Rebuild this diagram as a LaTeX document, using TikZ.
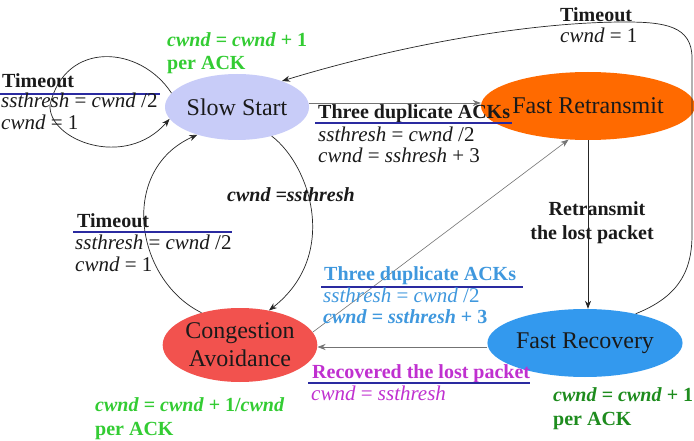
\documentclass[tikz,border=0pt]{standalone}
\usepackage{fontspec}
\setmainfont{Liberation Serif}
\usetikzlibrary{shapes.geometric,arrows.meta}
\definecolor{ssfill}{HTML}{C8CCF8}
\definecolor{frtfill}{HTML}{FF6A00}
\definecolor{cafill}{HTML}{F2524E}
\definecolor{frcfill}{HTML}{3399EE}
\definecolor{brgreen}{HTML}{33CC33}
\definecolor{dkgreen}{HTML}{1E8C1E}
\definecolor{ltblue}{HTML}{3F98DE}
\definecolor{magen}{HTML}{C030D0}
\definecolor{ulblue}{HTML}{2A2AA0}
\definecolor{txt}{HTML}{1A1A1A}
\tikzset{
  state/.style={ellipse, draw=none, inner sep=0pt, text=txt, font=\fontsize{24}{28}\selectfont, align=center},
  lbl/.style={anchor=base west, inner sep=0pt, text=txt, font=\fontsize{20}{24}\selectfont},
  ilbl/.style={lbl, font=\fontsize{21}{24}\selectfont},
  uline/.style={line width=2.6pt, ulblue},
  conn/.style={line width=0.7pt, draw=black!85, -{Stealth[length=8pt,width=6pt]}},
  connl/.style={line width=0.6pt, draw=black!55, -{Stealth[length=8pt,width=6pt]}}
}
\begin{document}
\begin{tikzpicture}[x=1pt,y=-1pt]
\useasboundingbox (0,0) rectangle (694,441);
\clip (0,0) rectangle (694,441);
\fill[white] (0,0) rectangle (694,441);

% states
\node[state, fill=ssfill, minimum width=144pt, minimum height=66pt] (ss) at (237,107) {Slow Start};
\node[state, fill=frtfill, minimum width=160pt, minimum height=68pt] (frt) at (588,106) {Fast Retransmit};
\node[state, fill=cafill, minimum width=152pt, minimum height=74pt, font=\fontsize{24}{28}\selectfont] (ca) at (240,345) {Congestion\\Avoidance};
\node[state, fill=frcfill, minimum width=166pt, minimum height=68pt] (frc) at (585,343) {Fast Recovery};

% connectors
\draw[conn] (ss.168) .. controls (140,45) and (65,40) .. (50,105)
  .. controls (48,140) and (125,170) .. (ss.190);
\draw[conn] (frc.30) .. controls (675,298) and (692,275) .. (692,235) -- (692,58)
  .. controls (692,26) and (665,22) .. (625,22)
  .. controls (530,22) and (400,45) .. (ss.30);
\draw[connl] ([yshift=4pt]ss.east) -- ([yshift=4pt]ss.east -| frt.west);
\draw[conn] (frt.south) -- (frt.south |- frc.north);
\draw[conn] (ss.-40) .. controls (310,165) and (340,255) .. (ca.50);
\draw[conn] (ca.140) .. controls (135,280) and (118,170) .. (ss.215);
\draw[connl] (ca.10) -- (frt.240);
\draw[connl] ([yshift=-4pt]frc.west) -- ([yshift=-4pt]frc.west -| ca.east);

% top-left green
\node[lbl, text=brgreen] (g1) at (167,47) {\textbf{\textit{cwnd} = \textit{cwnd} + 1}};
\node[lbl, text=brgreen] (g2) at (167,70) {\textbf{per ACK}};

% left timeout
\node[lbl] (t1) at (2,88) {\textbf{Timeout}};
\draw[uline] (0,94) -- (160,94);
\node[ilbl] (t1a) at (1,108) {\textit{ssthresh} = \textit{cwnd} /2};
\node[ilbl] (t1b) at (1,130) {\textit{cwnd} = 1};

% top right timeout
\node[lbl] (t2) at (560,22) {\textbf{Timeout}};
\node[ilbl] (t2a) at (560,43) {\textit{cwnd} = 1};

% three duplicate ACKs (top)
\node[lbl] (d1) at (318,119) {\textbf{Three duplicate ACKs}};
\draw[uline] (315,123) -- (512,123);
\node[ilbl] (d1a) at (318,142) {\textit{ssthresh} = \textit{cwnd} /2};
\node[ilbl] (d1b) at (318,163) {\textit{cwnd} = \textit{sshresh} + 3};

% cwnd = ssthresh
\node[lbl] (cs) at (227,201) {\textbf{\textit{cwnd =ssthresh}}};

% retransmit
\node[anchor=base, inner sep=0pt, text=txt, font=\fontsize{20}{24}\selectfont] (r1) at (597,215) {\textbf{Retransmit}};
\node[anchor=base, inner sep=0pt, text=txt, font=\fontsize{20}{24}\selectfont] (r2) at (592,240) {\textbf{the lost packet}};

% middle-left timeout
\node[lbl] (t3) at (77,227) {\textbf{Timeout}};
\draw[uline] (73,232) -- (232,232);
\node[ilbl] (t3a) at (75,249) {\textit{ssthresh} = \textit{cwnd} /2};
\node[ilbl] (t3b) at (75,271) {\textit{cwnd} = 1};

% blue three duplicate ACKs
\node[lbl, text=ltblue] (d2) at (324,280) {\textbf{Three duplicate ACKs}};
\draw[uline] (321,287) -- (523,287);
\node[ilbl, text=ltblue] (d2a) at (323,302) {\textit{ssthresh} = \textit{cwnd} /2};
\node[lbl, text=ltblue] (d2b) at (323,323) {\textbf{\textit{cwnd} = \textit{ssthresh} + 3}};

% recovered
\node[lbl, text=magen] (rc) at (312,378) {\textbf{Recovered the lost packet}};
\draw[uline] (308,383) -- (530,383);
\node[ilbl, text=magen] (rca) at (311,400) {\textit{cwnd} = \textit{ssthresh}};

% bottom-left green
\node[lbl, text=brgreen] (g3) at (95,411) {\textbf{\textit{cwnd} = \textit{cwnd} + 1/\textit{cwnd}}};
\node[lbl, text=brgreen] (g4) at (95,435) {\textbf{per ACK}};

% bottom-right dark green
\node[lbl, text=dkgreen] (g5) at (553,401) {\textbf{\textit{cwnd} = \textit{cwnd} + 1}};
\node[lbl, text=dkgreen] (g6) at (553,425) {\textbf{per ACK}};
\end{tikzpicture}
\end{document}
